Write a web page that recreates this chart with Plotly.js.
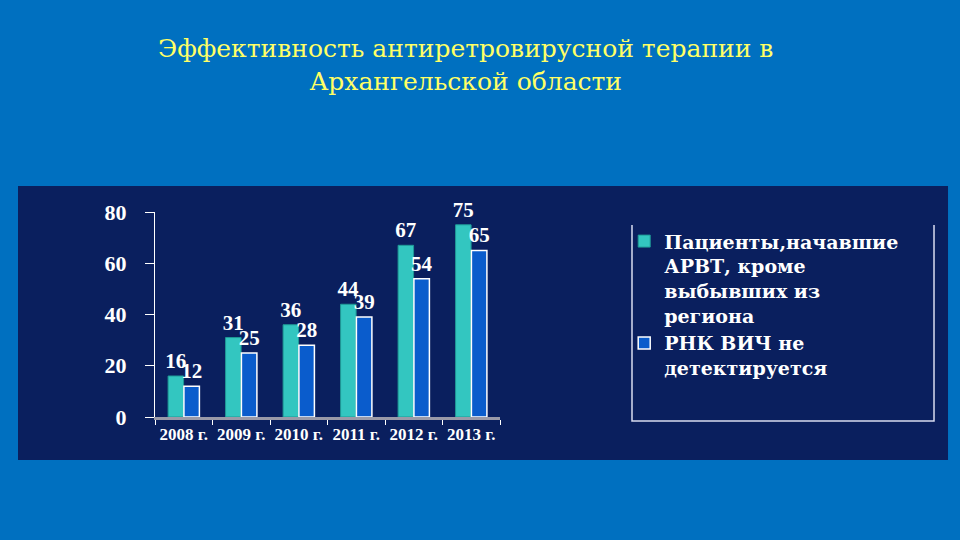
<!DOCTYPE html>
<html>
<head>
<meta charset="utf-8">
<script src="https://cdn.plot.ly/plotly-3.0.1.min.js"></script>
<style>
  html, body { margin: 0; padding: 0; background: #0070c0; }
  #chart { width: 960px; height: 540px; }
</style>
</head>
<body>
<div id="chart"></div>
<script>
// данные с диаграммы
var years = ['2008 г.', '2009 г.', '2010 г.', '2011 г.', '2012 г.', '2013 г.'];
var startedArvt = [16, 31, 36, 44, 67, 75];
var rnaUndetected = [12, 25, 28, 39, 54, 65];

var seriesNames = [
    'Пациенты,начавшие<br>АРВТ, кроме<br>выбывших из<br>региона',
    'РНК ВИЧ не<br>детектируется'
];

var labelFont = { family: 'Liberation Serif', size: 21, color: '#ffffff', weight: 'bold' };

var data = [
    {
        type: 'bar',
        name: seriesNames[0],
        x: years,
        y: startedArvt,
        text: startedArvt.map(String),
        textposition: 'outside',
        constraintext: 'none',
        textfont: labelFont,
        cliponaxis: false,
        marker: { color: '#33c6c0', line: { color: '#1f9a96', width: 1 } }
    },
    {
        type: 'bar',
        name: seriesNames[1],
        x: years,
        y: rnaUndetected,
        text: rnaUndetected.map(String),
        textposition: 'outside',
        constraintext: 'none',
        textfont: labelFont,
        cliponaxis: false,
        marker: { color: '#0a5ccc', line: { color: '#ffffff', width: 1.5 } }
    }
];

var layout = {
    width: 960,
    height: 540,
    margin: { l: 155, r: 460, t: 212, b: 123 },
    paper_bgcolor: '#0070c0',
    plot_bgcolor: 'rgba(0,0,0,0)',
    font: { family: 'Liberation Serif', color: '#ffffff' },
    barmode: 'group',
    bargap: 0.45,
    bargroupgap: 0.02,
    showlegend: true,
    legend: {
        x: 1.36, y: 0.95, xanchor: 'left', yanchor: 'top',
        valign: 'top',
        bgcolor: 'rgba(0,0,0,0)',
        font: { family: 'DejaVu Serif', size: 19, color: '#ffffff', weight: 'bold' },
        itemwidth: 30,
        tracegroupgap: 0
    },
    xaxis: {
        type: 'category',
        showline: true, linecolor: '#9a9aa8', linewidth: 3,
        ticks: 'outside', tickson: 'boundaries', ticklen: 5, tickcolor: '#ffffff',
        tickfont: { family: 'Liberation Serif', size: 17, color: '#ffffff', weight: 'bold' },
        showgrid: false, zeroline: false, fixedrange: true
    },
    yaxis: {
        range: [0, 80], dtick: 20,
        showline: true, linecolor: '#ffffff', linewidth: 1,
        ticks: 'outside', ticklen: 9, tickcolor: '#ffffff',
        ticklabelstandoff: 14,
        tickfont: { family: 'Liberation Serif', size: 22, color: '#ffffff', weight: 'bold' },
        showgrid: false, zeroline: false, fixedrange: true
    },
    shapes: [
        {
            type: 'rect', xref: 'paper', yref: 'paper', layer: 'below',
            x0: -0.3971, x1: 2.2986, y0: -0.2098, y1: 1.1268,
            fillcolor: '#0a1f5e', line: { width: 0 }
        },
        {
            type: 'path', xref: 'paper', yref: 'paper', layer: 'below',
            path: 'M 1.3826 0.9366 L 1.3826 -0.0195 L 2.258 -0.0195 L 2.258 0.9366',
            line: { color: '#d8dcf0', width: 1.5 }
        }
    ],
    annotations: [
        {
            xref: 'paper', yref: 'paper', x: 0.8986, y: 1.717,
            xanchor: 'center', yanchor: 'middle', showarrow: false,
            text: 'Эффективность антиретровирусной терапии в<br>Архангельской области',
            font: { family: 'DejaVu Serif', size: 25, color: '#ffff66' }
        }
    ]
};

Plotly.newPlot('chart', data, layout, { displayModeBar: false, staticPlot: true });
</script>
</body>
</html>
